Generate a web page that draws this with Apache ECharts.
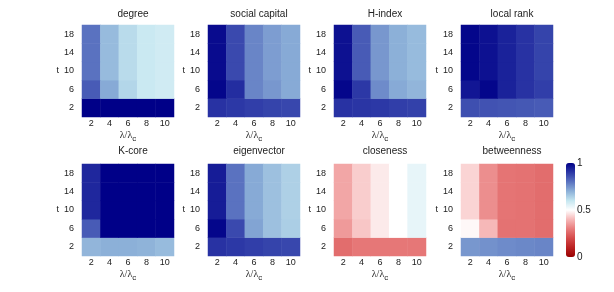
<!DOCTYPE html>
<html><head><meta charset="utf-8">
<script src="https://cdn.jsdelivr.net/npm/echarts@6/dist/echarts.min.js"></script>
<style>html,body{margin:0;padding:0;background:#fff}#c{width:614px;height:292px}</style>
</head><body><div id="c"></div>
<script>
// x categories: lambda / lambda_c ; y categories: t
const lambdaCats = ['2', '4', '6', '8', '10'];
const tCats = ['2', '6', '10', '14', '18'];
const panelTitles = ['degree', 'social capital', 'H-index', 'local rank', 'K-core', 'eigenvector', 'closeness', 'betweenness'];
const colorbarTicks = [0, 0.5, 1];

// each matrix: rows t = 2, 6, 10, 14, 18 ; columns lambda/lambda_c = 2, 4, 6, 8, 10
const degree = [
  [1.00, 1.00, 1.00, 1.00, 1.00],
  [0.84, 0.71, 0.63, 0.59, 0.58],
  [0.80, 0.68, 0.62, 0.59, 0.58],
  [0.80, 0.68, 0.62, 0.59, 0.58],
  [0.80, 0.68, 0.62, 0.59, 0.58]
];
const socialCapital = [
  [0.91, 0.90, 0.89, 0.88, 0.875],
  [0.99, 0.92, 0.77, 0.74, 0.71],
  [0.98, 0.87, 0.77, 0.73, 0.71],
  [0.98, 0.87, 0.77, 0.73, 0.71],
  [0.98, 0.87, 0.77, 0.73, 0.71]
];
const hIndex = [
  [0.91, 0.905, 0.90, 0.89, 0.885],
  [0.99, 0.90, 0.76, 0.71, 0.69],
  [0.97, 0.84, 0.74, 0.70, 0.68],
  [0.97, 0.84, 0.74, 0.70, 0.68],
  [0.97, 0.84, 0.74, 0.70, 0.68]
];
const localRank = [
  [0.86, 0.855, 0.85, 0.845, 0.84],
  [0.96, 0.99, 0.94, 0.91, 0.89],
  [0.99, 0.97, 0.94, 0.91, 0.88],
  [0.99, 0.97, 0.94, 0.91, 0.88],
  [0.99, 0.97, 0.94, 0.91, 0.88]
];
const kCore = [
  [0.69, 0.70, 0.70, 0.695, 0.68],
  [0.84, 1.00, 1.00, 1.00, 1.00],
  [0.93, 1.00, 1.00, 1.00, 1.00],
  [0.93, 1.00, 1.00, 1.00, 1.00],
  [0.93, 1.00, 1.00, 1.00, 1.00]
];
const eigenvector = [
  [0.91, 0.90, 0.89, 0.88, 0.875],
  [0.99, 0.87, 0.72, 0.67, 0.645],
  [0.95, 0.80, 0.71, 0.67, 0.64],
  [0.95, 0.80, 0.71, 0.67, 0.64],
  [0.95, 0.80, 0.71, 0.67, 0.64]
];
const closeness = [
  [0.27, 0.29, 0.29, 0.29, 0.29],
  [0.35, 0.42, 0.47, 0.50, 0.54],
  [0.37, 0.43, 0.47, 0.50, 0.54],
  [0.37, 0.43, 0.47, 0.50, 0.54],
  [0.37, 0.43, 0.47, 0.50, 0.54]
];
const betweenness = [
  [0.74, 0.75, 0.76, 0.765, 0.77],
  [0.49, 0.40, 0.28, 0.28, 0.27],
  [0.44, 0.33, 0.285, 0.28, 0.27],
  [0.44, 0.33, 0.285, 0.28, 0.27],
  [0.44, 0.33, 0.285, 0.28, 0.27]
];
const matrices = [degree, socialCapital, hIndex, localRank, kCore, eigenvector, closeness, betweenness];

const colorStops = ['#990000', '#bb2222', '#d54a4a', '#e87c7c', '#f6b8b8', '#ffffff', '#c4e6f0', '#8cb0d8', '#5a72c0', '#2c38a6', '#000088'];

const lefts = [82, 208, 334, 461];
const tops = [25, 164];
const W = 92, H = 92;
const FONT = 'Liberation Sans, Arial, sans-serif';

const grids = [], xAxes = [], yAxes = [], series = [], titles = [];
matrices.forEach((m, i) => {
  const col = i % 4, row = Math.floor(i / 4);
  grids.push({left: lefts[col], top: tops[row], width: W, height: H});
  xAxes.push({
    type: 'category', gridIndex: i, data: lambdaCats,
    axisLine: {show: false}, axisTick: {show: false}, splitLine: {show: false},
    axisLabel: {color: '#222', fontSize: 9, fontFamily: FONT, margin: 2},
    name: '{a|λ/λ}{s|c}', nameLocation: 'middle', nameGap: 11,
    nameTextStyle: {
      rich: {
        a: {fontSize: 10, fontFamily: 'Liberation Serif, serif', color: '#222'},
        s: {fontSize: 8, fontFamily: FONT, color: '#222', padding: [7, 0, 0, 0]}
      }
    }
  });
  yAxes.push({
    type: 'category', gridIndex: i, data: tCats,
    axisLine: {show: false}, axisTick: {show: false}, splitLine: {show: false},
    axisLabel: {color: '#222', fontSize: 9, fontFamily: FONT, margin: 8},
    name: 't', nameLocation: 'middle', nameGap: 20, nameRotate: 0,
    nameTextStyle: {color: '#222', fontSize: 9, fontFamily: FONT}
  });
  const data = [];
  m.forEach((r, yi) => r.forEach((v, xi) => data.push([xi, yi, v])));
  series.push({type: 'heatmap', xAxisIndex: i, yAxisIndex: i, data: data, silent: true, itemStyle: {borderWidth: 0}});
  titles.push({
    text: panelTitles[i], left: lefts[col] + W / 2, top: row === 0 ? 4 : 141, textAlign: 'center',
    textStyle: {fontSize: 10, fontWeight: 'normal', color: '#222', fontFamily: FONT}
  });
});

// colorbar axis
grids.push({left: 566, top: 163, width: 9, height: 94});
xAxes.push({type: 'value', gridIndex: 8, show: false, min: 0, max: 1});
yAxes.push({
  type: 'value', gridIndex: 8, position: 'right', min: 0, max: 1, interval: 0.5,
  axisLine: {show: false}, axisTick: {show: false}, splitLine: {show: false},
  axisLabel: {color: '#222', fontSize: 10, fontFamily: FONT, margin: 2,
    formatter: v => colorbarTicks.includes(v) ? String(v) : ''}
});

const chart = echarts.init(document.getElementById('c'), null, {renderer: 'canvas'});
chart.setOption({
  animation: false,
  backgroundColor: '#fff',
  title: titles,
  grid: grids,
  xAxis: xAxes,
  yAxis: yAxes,
  visualMap: {
    type: 'continuous', min: 0, max: 1, seriesIndex: [0,1,2,3,4,5,6,7],
    inRange: {color: colorStops}, left: 566, top: 163, itemWidth: 9, itemHeight: 94,
    text: null, padding: 0, calculable: false, showLabel: false, realtime: false
  },
  series: series
});
</script>
</body></html>
